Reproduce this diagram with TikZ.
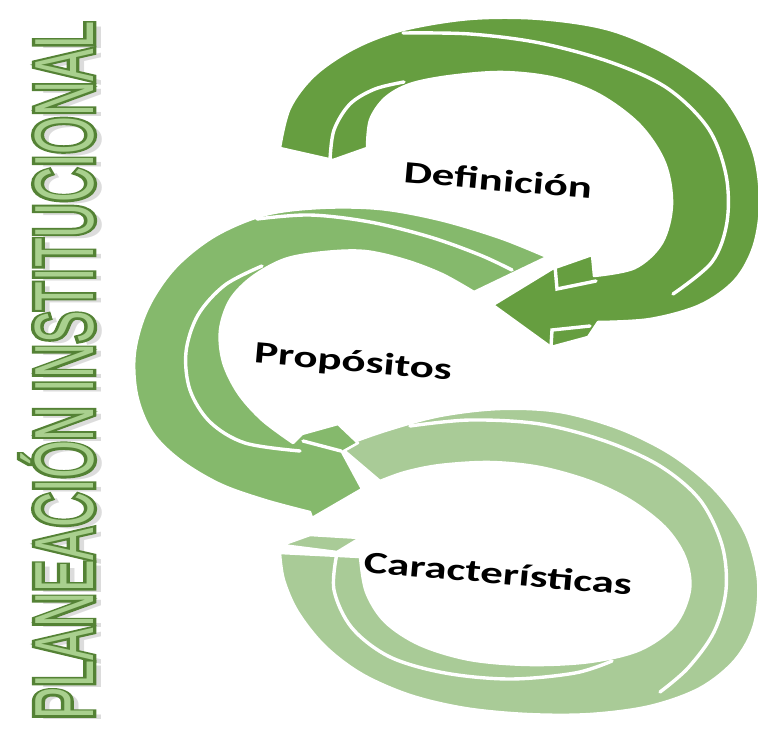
\documentclass[tikz,border=0pt]{standalone}
\usepackage{fontspec}
\setmainfont{Carlito}
\newfontfamily\titlefont{Liberation Sans}
\newfontfamily\titlefontbold[FakeBold=8]{Liberation Sans}
\definecolor{RingOne}{HTML}{669E40}
\definecolor{RingTwo}{HTML}{85B96C}
\definecolor{RingThree}{HTML}{A9CB97}
\definecolor{TitleFill}{HTML}{A9D08E}
\definecolor{TitleLine}{HTML}{548235}
\newcommand\ringword[1]{\scalebox{1.45}[1]{#1}}

\begin{document}
\begin{tikzpicture}[x=1pt,y=-1pt,
  ring/.style={draw=white,line width=2.5pt,line join=round},
  rim/.style={white,line width=3.4pt,line cap=round},
  ringtext/.style={font=\fontsize{31}{33}\selectfont\bfseries,inner sep=0pt,rotate=-5},
  titletext/.style={anchor=base west,inner sep=0pt,rotate=90,xscale=0.58,font=\fontsize{84}{86}\selectfont}]
\useasboundingbox (0,0) rectangle (758,733);

% title
\node[titletext,text=black!30,opacity=.45] (titleshadow) at (101,724) {\titlefont PLANEACIÓN INSTITUCIONAL};
\node[titletext,text=TitleLine] (titleline) at (93,720) {\titlefontbold PLANEACIÓN INSTITUCIONAL};
\node[titletext,text=TitleFill] (title) at (93,720) {\titlefont PLANEACIÓN INSTITUCIONAL};

% third ring
\fill[ring,fill=RingThree] (340,447)
  -- plot[smooth,tension=.55] coordinates {(340,447) (385,431) (440,416) (500,409) (560,412) (620,429) (672,455) (715,490) (745,532) (758,580) (754,625) (735,660) (700,688) (650,706) (590,714) (527,714) (465,708) (410,695) (362,674) (325,646) (298,612) (284,580) (280,553)}
  -- (360,557)
  -- plot[smooth,tension=.55] coordinates {(360,557) (366,592) (385,622) (420,645) (470,660) (530,665) (590,662) (640,650) (675,625) (690,590) (685,557) (665,527) (630,500) (590,481) (540,467) (490,462) (440,465) (405,472) (380,481)}
  -- cycle;
\fill[ring,fill=RingThree] (282,545) -- (310,535) -- (360,538) -- (337,552) -- cycle;
\draw[rim] plot[smooth,tension=.55] coordinates {(410,426) (470,420) (540,424) (605,441) (660,466) (700,500) (722,545) (726,590) (714,632) (688,668) (660,692)};
\draw[rim] plot[smooth,tension=.55] coordinates {(337,553) (334,590) (352,628) (390,657) (445,673) (510,679) (575,673) (612,661)};

% second ring
\fill[ring,fill=RingTwo] (547,257)
  -- plot[smooth,tension=.55] coordinates {(547,257) (500,238) (440,220) (380,209) (320,208) (265,215) (215,236) (175,268) (148,308) (135,352) (137,395) (152,432) (180,460) (220,484) (265,500) (310,512)}
  -- (312,518) -- (362,489) -- (342,452) -- (358,443) -- (338,424) -- (302,434) -- (293,443)
  -- plot[smooth,tension=.55] coordinates {(293,443) (262,420) (238,393) (223,362) (220,330) (230,300) (252,277) (285,259) (325,252) (365,251) (405,260) (442,274) (474,292)}
  -- cycle;
\draw[rim] plot[smooth,tension=.55] coordinates {(257,219) (310,215) (370,222) (430,237) (480,255) (512,270)};
\draw[rim] plot[smooth,tension=.55] coordinates {(262,266) (225,285) (198,315) (186,352) (190,390) (210,422) (245,443) (300,451)};
\draw[rim] (303,441) -- (341,451);

% first ring
\fill[ring,fill=RingOne] (280,148)
  -- plot[smooth,tension=.55] coordinates {(280,148) (290,108) (315,75) (355,48) (403,30) (470,19) (540,19) (610,30) (672,57) (722,95) (752,148) (760,200) (754,245) (735,280) (700,305) (650,319) (598,322)}
  -- (588,337) -- (551,347) -- (493,305) -- (552,269) -- (592,255) -- (594,276)
  -- plot[smooth,tension=.55] coordinates {(594,276) (635,268) (662,243) (672,205) (665,163) (640,125) (600,95) (555,78) (503,72) (450,76) (410,84) (385,98) (370,120) (367,148)}
  -- (333,160) -- cycle;
\draw[rim] plot[smooth,tension=.55] coordinates {(403,33) (470,34) (540,43) (610,62) (667,88) (708,128) (726,175) (727,222) (712,262) (673,294)};
\draw[rim] plot[smooth,tension=.55] coordinates {(330,160) (334,130) (350,104) (375,89) (404,82)};
\draw[rim] (555,266) -- (557,289) -- (596,281);
\draw[rim] (551,347) -- (552,330) -- (590,326);

% labels
\node[ringtext] (def) at (498,180) {\ringword{Definición}};
\node[ringtext] (prop) at (353,363) {\ringword{Propósitos}};
\node[ringtext] (car) at (498,573) {\ringword{Características}};
\end{tikzpicture}
\end{document}
